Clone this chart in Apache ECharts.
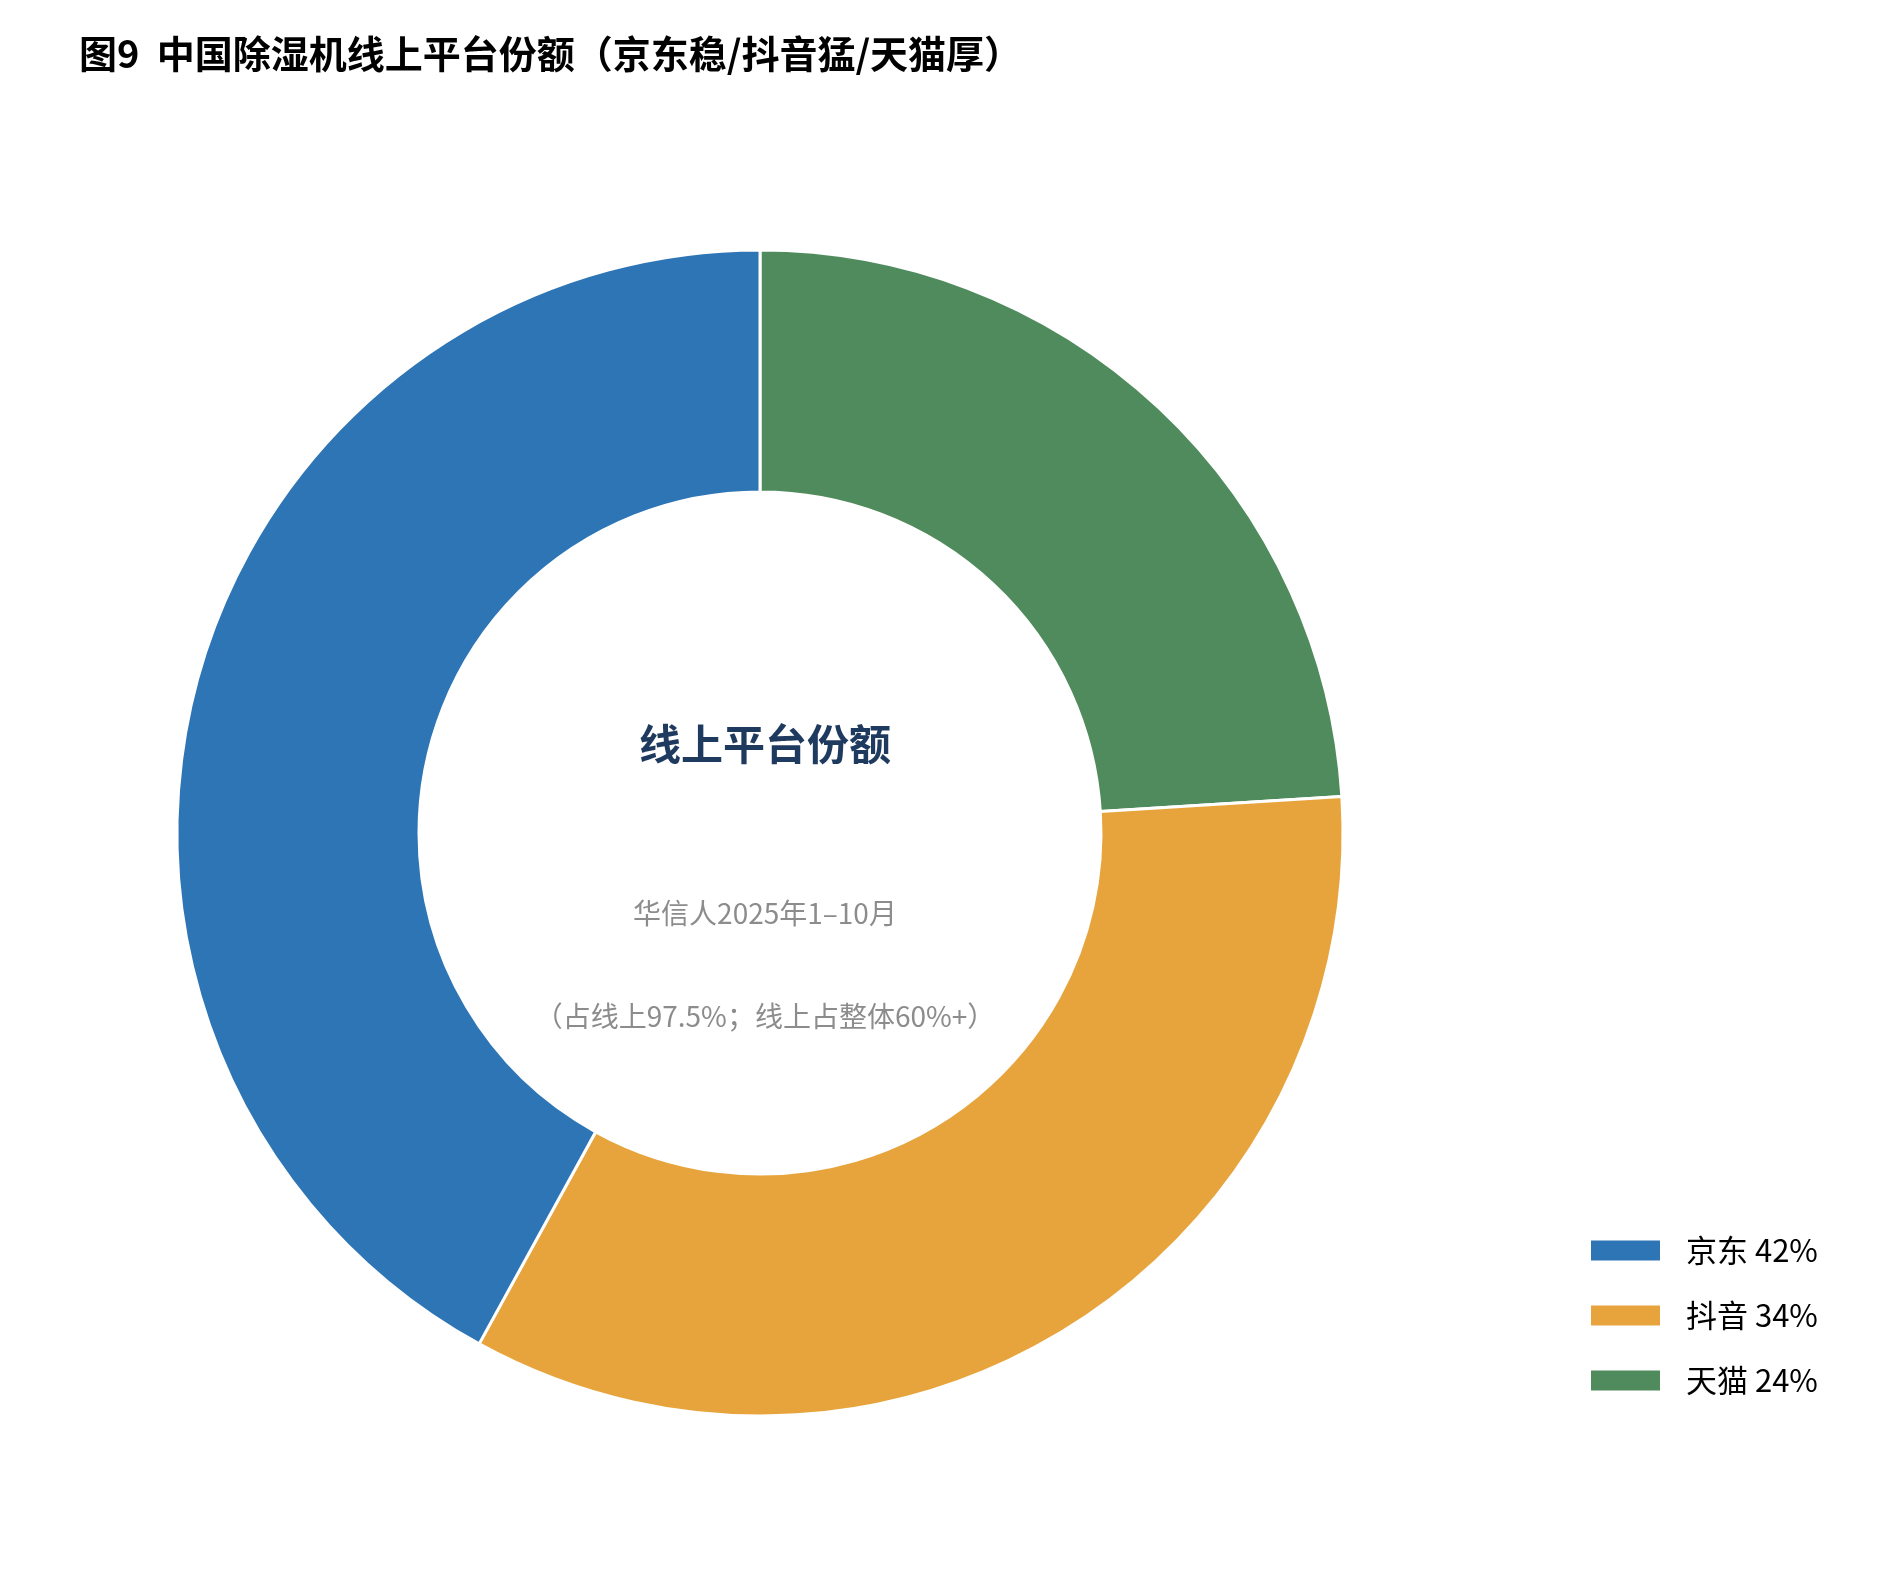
<!DOCTYPE html>
<html><head><meta charset="utf-8">
<script src="https://cdn.jsdelivr.net/npm/echarts@6/dist/echarts.min.js"></script>
<style>html,body{margin:0;background:#fff}#c{width:1902px;height:1585px}</style>
</head><body><div id="c"></div>
<script>
const categories = ['天猫', '抖音', '京东'];
const values = [24, 34, 42];
const colors = ['#4f8b5c', '#e8a43c', '#2e75b6'];
const legendOrder = ['京东', '抖音', '天猫'];
const chart = echarts.init(document.getElementById('c'));
const F = '"Noto Sans CJK SC", sans-serif';
chart.setOption({
  backgroundColor: '#fff',
  title: [
    {text: '图9  中国除湿机线上平台份额（京东稳/抖音猛/天猫厚）', left: 74, top: 30,
     textStyle: {fontFamily: F, fontSize: 38, fontWeight: 'bold', color: '#000'}},
    {text: '线上平台份额', left: 760, top: 718, textAlign: 'center',
     textStyle: {fontFamily: F, fontSize: 42, fontWeight: 'bold', color: '#1f3a5f'}},
    {text: '华信人2025年1–10月', left: 760, top: 894, textAlign: 'center',
     textStyle: {fontFamily: F, fontSize: 28, fontWeight: 'normal', color: '#8c8c8c'}},
    {text: '（占线上97.5%；线上占整体60%+）', left: 760, top: 997, textAlign: 'center',
     textStyle: {fontFamily: F, fontSize: 28, fontWeight: 'normal', color: '#8c8c8c'}}
  ],
  legend: {
    data: legendOrder, orient: 'vertical', left: 1584, top: 1230,
    itemWidth: 71, itemHeight: 22, itemGap: 34, icon: 'rect',
    formatter: n => n + ' ' + values[categories.indexOf(n)] + '%',
    textStyle: {fontFamily: F, fontSize: 31, color: '#000', padding: [0, 0, 0, 20]}
  },
  series: [{
    type: 'pie', center: [760, 833], radius: [341, 583], startAngle: 90, clockwise: true,
    label: {show: false}, labelLine: {show: false}, silent: true,
    itemStyle: {borderColor: '#fff', borderWidth: 3},
    data: categories.map((c, i) => ({name: c, value: values[i], itemStyle: {color: colors[i]}}))
  }]
});
</script></body></html>
